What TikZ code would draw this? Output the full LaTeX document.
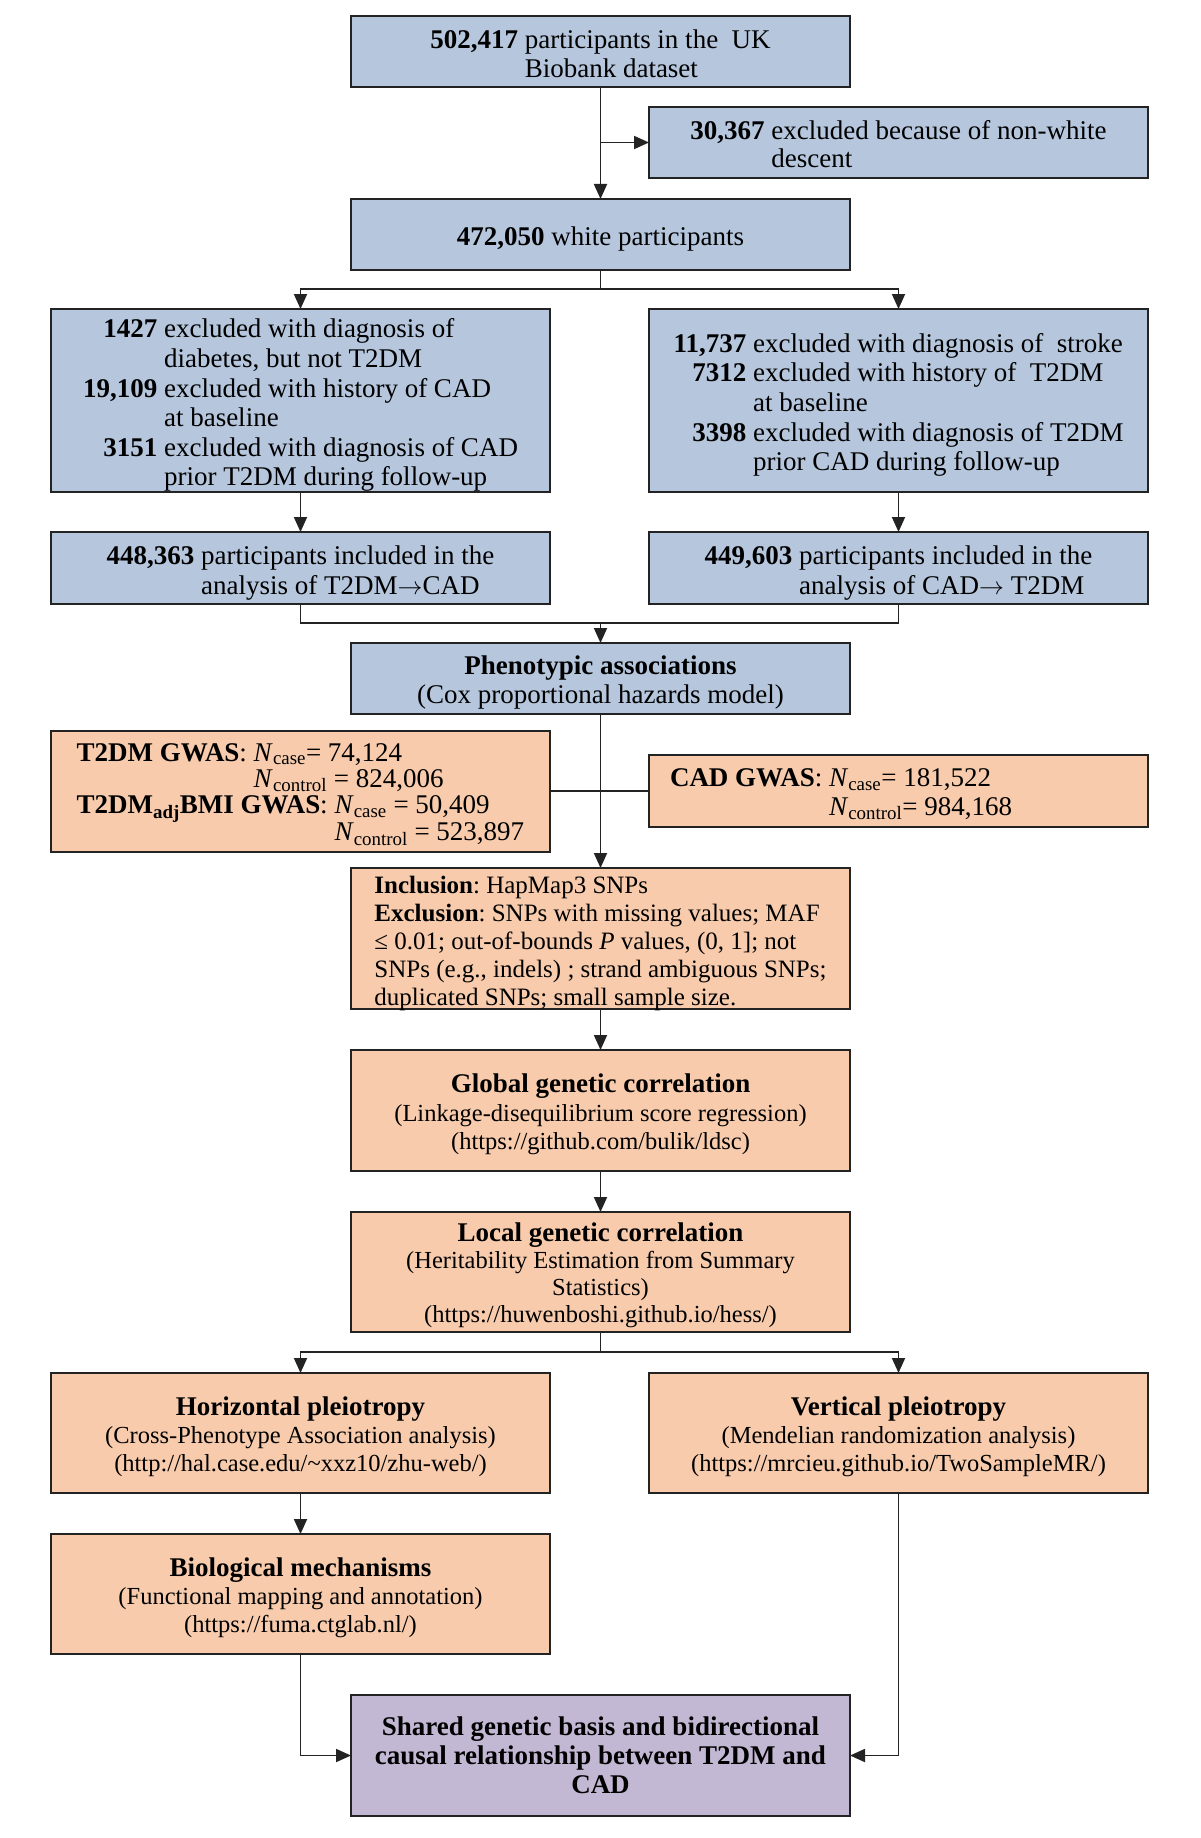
\documentclass[tikz,border=0pt]{standalone}
\usepackage{fontspec}
\setmainfont{Liberation Serif}
\usetikzlibrary{arrows.meta}
\definecolor{boxblue}{RGB}{181,198,221}
\definecolor{boxorange}{RGB}{247,203,172}
\definecolor{boxpurple}{RGB}{195,184,211}
\definecolor{edgecol}{RGB}{35,35,35}
\newcommand{\txtc}[2]{\raisebox{-#1}[\height][\depth]{\begin{tabular}{@{}c@{}}#2\end{tabular}}}
\newcommand{\txtl}[2]{\raisebox{-#1}[\height][\depth]{\begin{tabular}{@{}l@{}}#2\end{tabular}}}
\newcommand{\txth}[2]{\raisebox{-#1}[\height][\depth]{\begin{tabular}{@{}r@{ }l@{}}#2\end{tabular}}}
\newcommand{\ttl}{\fontsize{27}{28}\selectfont\bfseries}
\begin{document}
\frenchspacing
\begin{tikzpicture}[x=1pt,y=-1pt,
  box/.style={draw=edgecol, line width=2pt, minimum width=499pt, inner sep=0pt, outer sep=0pt},
  bluebox/.style={box, fill=boxblue, font=\fontsize{27}{29.6}\selectfont},
  orangebox/.style={box, fill=boxorange},
  purplebox/.style={box, fill=boxpurple},
  conn/.style={draw=edgecol, line width=1.8pt},
  arr/.style={conn, -{Triangle[length=15pt,width=13pt]}},
  subtxt/.style={font=\fontsize{24.5}{28}\selectfont},
]
\useasboundingbox[fill=white] (0,0) rectangle (1200,1838);

% ---------- blue part ----------
\node[bluebox, minimum height=71pt, font=\fontsize{27}{28.5}\selectfont] (top) at (600.5,51.5)
  {\txth{6pt}{\textbf{502,417} & participants in the\ \ UK\\ & Biobank dataset}};
\node[bluebox, minimum height=71pt, font=\fontsize{27}{28.5}\selectfont] (excl1) at (898.5,142.5)
  {\txth{5.5pt}{\textbf{30,367} & excluded because of non-white\\ & descent}};
\node[bluebox, minimum height=71pt] (white) at (600.5,234.5)
  {\raisebox{-4.5pt}[\height][\depth]{\textbf{472,050} white participants}};
\node[bluebox, minimum height=183pt] (exL) at (300.5,400.5)
  {\txth{5.5pt}{%
  \textbf{1427} & excluded with diagnosis of\\
   & diabetes, but not T2DM\\
  \textbf{19,109} & excluded with history of CAD\\
   & at baseline\\
  \textbf{3151} & excluded with diagnosis of CAD\\
   & prior T2DM during follow-up}};
\node[bluebox, minimum height=183pt] (exR) at (898.5,400.5)
  {\txth{5pt}{%
  \textbf{11,737} & excluded with diagnosis of\ \ stroke\\
  \textbf{7312} & excluded with history of\ \ T2DM\\
   & at baseline\\
  \textbf{3398} & excluded with diagnosis of T2DM\\
   & prior CAD during follow-up}};
\node[bluebox, minimum height=72pt] (inL) at (300.5,568)
  {\txth{5.5pt}{\textbf{448,363} & participants included in the\\ & analysis of T2DM$\rightarrow$CAD}};
\node[bluebox, minimum height=72pt] (inR) at (898.5,568)
  {\txth{5.5pt}{\textbf{449,603} & participants included in the\\ & analysis of CAD$\rightarrow$ T2DM}};
\node[bluebox, minimum height=71pt, font=\fontsize{27}{29}\selectfont] (pheno) at (600.5,678.5)
  {\txtc{4.5pt}{\textbf{Phenotypic associations}\\(Cox proportional hazards model)}};

% ---------- GWAS ----------
\node[orangebox, minimum height=121pt, font=\fontsize{27}{26.3}\selectfont] (gwasL) at (300.5,791)
  {\txtl{5pt}{\textbf{T2DM GWAS}: \textit{N}\textsubscript{case}= 74,124\\
   \phantom{\textbf{T2DM GWAS}: }\textit{N}\textsubscript{control} = 824,006\\
   \textbf{T2DM\textsubscript{adj}BMI GWAS}: \textit{N}\textsubscript{case} = 50,409\\
   \phantom{\textbf{T2DM\textsubscript{adj}BMI GWAS}: }\textit{N}\textsubscript{control} = 523,897}};
\node[orangebox, minimum height=72pt, font=\fontsize{27}{29}\selectfont] (gwasR) at (898.5,791)
  {\makebox[457pt][l]{\txtl{4pt}{\textbf{CAD GWAS}: \textit{N}\textsubscript{case}= 181,522\\
   \phantom{\textbf{CAD GWAS}: }\textit{N}\textsubscript{control}= 984,168}}};

\node[orangebox, minimum height=141pt, font=\fontsize{25}{27.8}\selectfont] (incl) at (600.5,938.5)
  {\txtl{5.5pt}{\textbf{Inclusion}: HapMap3 SNPs\\
   \textbf{Exclusion}: SNPs with missing values; MAF\\
   ≤ 0.01; out-of-bounds \textit{P} values, (0, 1]; not\\
   SNPs (e.g., indels) ; strand ambiguous SNPs;\\
   duplicated SNPs; small sample size.}};

% ---------- analyses ----------
\node[orangebox, minimum height=121pt, font=\fontsize{24.5}{28.5}\selectfont] (glob) at (600.5,1110.5)
  {\txtc{5pt}{{\ttl Global genetic correlation}\\
   (Linkage-disequilibrium score regression)\\
   (https://github.com/bulik/ldsc)}};
\node[orangebox, minimum height=120pt, font=\fontsize{24.5}{27.3}\selectfont] (loc) at (600.5,1272)
  {\txtc{4.5pt}{{\ttl Local genetic correlation}\\
   (Heritability Estimation from Summary\\
   Statistics)\\
   (https://huwenboshi.github.io/hess/)}};
\node[orangebox, minimum height=120pt, subtxt] (hor) at (300.5,1433)
  {\txtc{5pt}{{\ttl Horizontal pleiotropy}\\
   (Cross-Phenotype Association analysis)\\
   (http://hal.case.edu/\textasciitilde xxz10/zhu-web/)}};
\node[orangebox, minimum height=120pt, subtxt] (ver) at (898.5,1433)
  {\txtc{5pt}{{\ttl Vertical pleiotropy}\\
   (Mendelian randomization analysis)\\
   (https://mrcieu.github.io/TwoSampleMR/)}};
\node[orangebox, minimum height=120pt, subtxt] (bio) at (300.5,1594)
  {\txtc{5pt}{{\ttl Biological mechanisms}\\
   (Functional mapping and annotation)\\
   (https://fuma.ctglab.nl/)}};
\node[purplebox, minimum height=121pt, font=\fontsize{27}{29}\selectfont\bfseries] (final) at (600.5,1755.5)
  {\txtc{3.5pt}{Shared genetic basis and bidirectional\\
   causal relationship between T2DM and\\
   CAD}};

% ---------- connectors ----------
\coordinate (s1) at (600.5,289);
\coordinate (m1) at (600.5,623);
\coordinate (s2) at (600.5,1352);

\draw[arr] (top.south) -- (white.north);
\draw[arr] (top.south |- excl1.west) -- (excl1.west);
\draw[conn] (white.south) -- (s1);
\draw[arr] (s1) -| (exL.north);
\draw[arr] (s1) -| (exR.north);
\draw[arr] (exL.south) -- (inL.north);
\draw[arr] (exR.south) -- (inR.north);
\draw[conn] (inL.south) |- (m1) -| (inR.south);
\draw[arr] (m1) -- (pheno.north);
\draw[arr] (pheno.south) -- (incl.north);
\draw[conn] (gwasL.east) -- (gwasR.west);
\draw[arr] (incl.south) -- (glob.north);
\draw[arr] (glob.south) -- (loc.north);
\draw[conn] (loc.south) -- (s2);
\draw[arr] (s2) -| (hor.north);
\draw[arr] (s2) -| (ver.north);
\draw[arr] (hor.south) -- (bio.north);
\draw[arr] (bio.south) |- (final.west);
\draw[arr] (ver.south) |- (final.east);
\end{tikzpicture}
\end{document}
